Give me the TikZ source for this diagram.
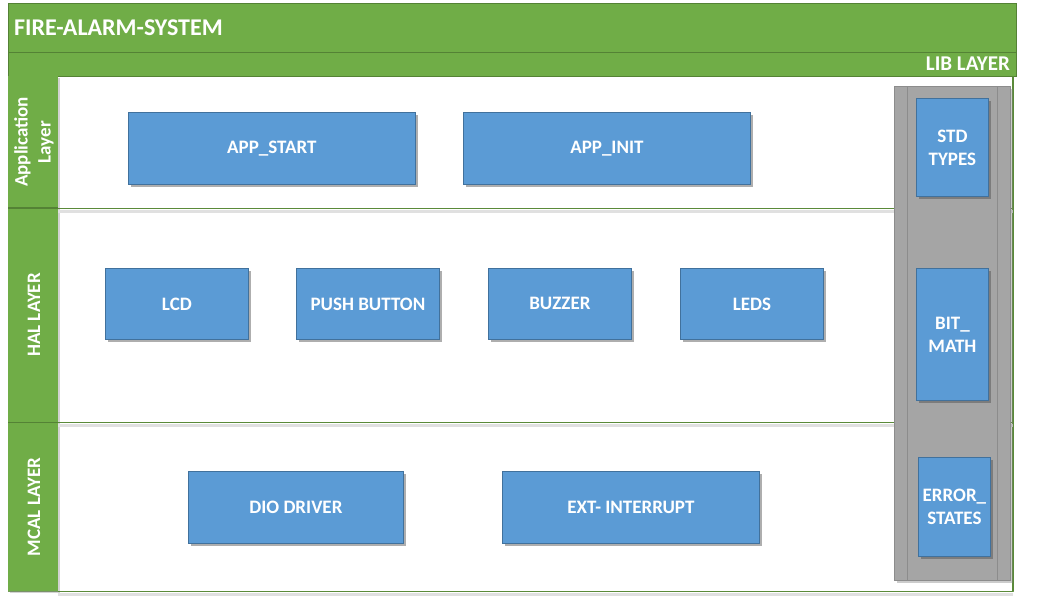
\documentclass[tikz,border=0pt]{standalone}
\usepackage{fontspec}
\setmainfont{Carlito}
\usetikzlibrary{shadows}
\definecolor{offgreen}{RGB}{112,173,71}
\definecolor{darkgreen}{RGB}{84,130,53}
\definecolor{offblue}{RGB}{91,155,213}
\definecolor{blueedge}{RGB}{65,113,156}
\definecolor{libgray}{RGB}{165,165,165}
\definecolor{grayedge}{RGB}{140,140,140}
\tikzset{
  modbox/.style={draw=blueedge, line width=0.8pt, fill=offblue, anchor=north west, inner sep=0pt,
    text=white, font=\bfseries\fontsize{19}{23}\selectfont, align=center,
    drop shadow={shadow xshift=3pt, shadow yshift=-3pt, opacity=0.45, fill=black!70}},
  lanelabel/.style={rotate=90, text=white, font=\bfseries\fontsize{19}{23}\selectfont, align=center, inner sep=0pt},
}
\begin{document}
\begin{tikzpicture}[x=1pt,y=-1pt]
\useasboundingbox (0,0) rectangle (1059,603);
% outer frame & lanes
\fill[white] (58,76) rectangle (1013,591);
\draw[darkgreen!80, line width=1pt] (8,3) rectangle (1013,591);
% title band
\fill[offgreen] (8,3) rectangle (1016,76);
\draw[darkgreen, line width=0.8pt] (8,52) -- (1016,52);
\draw[darkgreen, line width=0.8pt] (8,3) rectangle (1016,76);
% left column
\fill[offgreen, drop shadow={shadow xshift=2pt, shadow yshift=-2pt, opacity=0.35}] (8,76) rectangle (58,591);
\draw[darkgreen, line width=1.5pt] (8,208) -- (58,208);
\draw[darkgreen, line width=1pt] (8,422) -- (58,422);
% lane separators
\draw[offgreen!80!black, line width=1pt] (58,208) -- (1013,208);
\draw[offgreen!80!black, line width=1pt] (58,422) -- (1013,422);
\draw[offgreen!80!black, line width=1pt] (58,591) -- (1013,591);
\draw[offgreen!80!black, line width=1.2pt] (1013,76) -- (1013,591);
\fill[black!12] (58,210) rectangle (1013,213);
\fill[black!12] (58,424) rectangle (1013,427);
\fill[black!12] (58,593) rectangle (1013,596);
% lib column
\fill[libgray, drop shadow={shadow xshift=3pt, shadow yshift=-3pt, opacity=0.4}] (894,86) rectangle (1010,580);
\draw[grayedge, line width=0.6pt] (894,86) rectangle (1010,580);
\draw[grayedge, line width=0.6pt] (907,86) -- (907,580);
\draw[grayedge, line width=0.6pt] (997,86) -- (997,580);
% texts
\node[text=white, font=\bfseries\fontsize{24}{27}\selectfont, anchor=west, inner sep=0pt] (title) at (14,28) {FIRE-ALARM-SYSTEM};
\node[text=white, font=\bfseries\fontsize{21}{24}\selectfont, anchor=east, inner sep=0pt] (lib) at (1010,64) {LIB LAYER};
\node[lanelabel] (appl) at (34,142) {Application\\Layer};
\node[lanelabel] (hall) at (34,315) {HAL LAYER};
\node[lanelabel] (mcall) at (34,507) {MCAL LAYER};
% modules
\node[modbox, minimum width=287pt, minimum height=72pt] (appstart) at (128,112) {APP\_START};
\node[modbox, minimum width=287pt, minimum height=72pt] (appinit) at (463,112) {APP\_INIT};
\node[modbox, minimum width=143pt, minimum height=71pt] (lcd) at (105,268) {LCD};
\node[modbox, minimum width=143pt, minimum height=71pt] (push) at (296,268) {PUSH BUTTON};
\node[modbox, minimum width=143pt, minimum height=71pt] (buzzer) at (488,268) {BUZZER};
\node[modbox, minimum width=143pt, minimum height=71pt] (leds) at (680,268) {LEDS};
\node[modbox, minimum width=215pt, minimum height=72pt] (dio) at (188,471) {DIO DRIVER};
\node[modbox, minimum width=257pt, minimum height=72pt] (ext) at (502,471) {EXT- INTERRUPT};
\node[modbox, minimum width=72pt, minimum height=98pt] (std) at (916,98) {STD\\TYPES};
\node[modbox, minimum width=72pt, minimum height=132pt] (bit) at (916,268) {BIT\_\\MATH};
\node[modbox, minimum width=72pt, minimum height=99pt] (err) at (918,457) {ERROR\_\\STATES};
\end{tikzpicture}
\end{document}
